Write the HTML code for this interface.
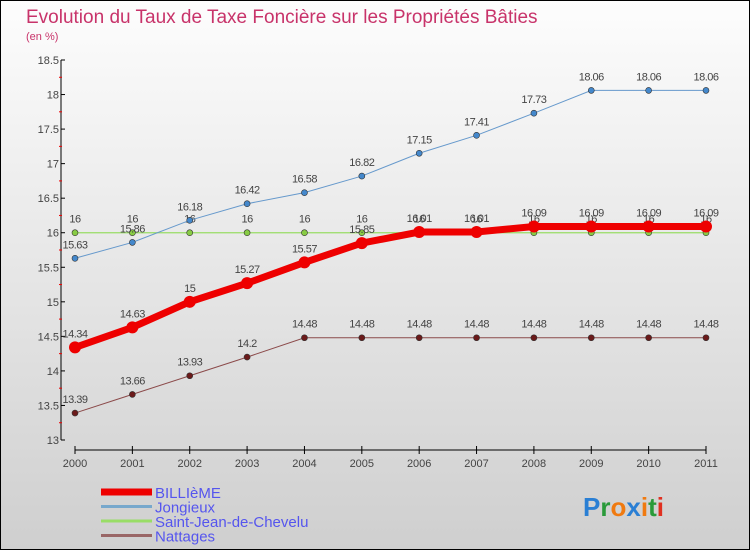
<!DOCTYPE html>
<html><head><meta charset="utf-8"><style>
html,body{margin:0;padding:0}
body{width:750px;height:550px;overflow:hidden;font-family:"Liberation Sans",sans-serif}
#wrap{position:relative;width:748px;height:548px;border:1px solid #000;background:linear-gradient(#fdfdfd,#cfcfcf)}
</style></head><body>
<div id="wrap">
<svg id="chart" width="748" height="548"></svg>
</div>
<script>
const years=[2000,2001,2002,2003,2004,2005,2006,2007,2008,2009,2010,2011];
const yTicks=[13,13.5,14,14.5,15,15.5,16,16.5,17,17.5,18,18.5];
const billieme=[14.34,14.63,15,15.27,15.57,15.85,16.01,16.01,16.09,16.09,16.09,16.09];
const jongieux=[15.63,15.86,16.18,16.42,16.58,16.82,17.15,17.41,17.73,18.06,18.06,18.06];
const saintJean=[16,16,16,16,16,16,16,16,16,16,16,16];
const nattages=[13.39,13.66,13.93,14.2,14.48,14.48,14.48,14.48,14.48,14.48,14.48,14.48];
const seriesNames=["BILLIèME","Jongieux","Saint-Jean-de-Chevelu","Nattages"];
const NS="http://www.w3.org/2000/svg";
const svg=document.getElementById('chart');
function X(i){return 74+i*(631/11);}
function Y(v){return 439-(v-13)*(380/5.5);}
function mk(t,a,p){const e=document.createElementNS(NS,t);for(const k in a)e.setAttribute(k,a[k]);(p||svg).appendChild(e);return e;}
function txt(s,a){const e=mk('text',a);e.textContent=s;return e;}
// title
let t=txt('Evolution du Taux de Taxe Foncière sur les Propriétés Bâties',{x:25,y:22,'font-size':19,fill:'#c8336a'});

t=txt('(en %)',{x:25,y:39,'font-size':11,fill:'#c8336a'});

// y axis
let l=mk('line',{x1:60,y1:Y(18.5),x2:60,y2:Y(13),stroke:'#000'});

yTicks.forEach(v=>{
 const y=Y(v);
 const tk=mk('line',{x1:60,y1:y,x2:64,y2:y,stroke:'#000'});
 
 const lb=txt(String(v),{x:58,y:y+4,'font-size':11,fill:'#444','text-anchor':'end'});
 
 if(v<18.5){const m=mk('line',{x1:58,y1:Y(v+0.25),x2:61,y2:Y(v+0.25),stroke:'#e00'});
 }
});
// x axis
l=mk('line',{x1:X(0),y1:449,x2:X(11),y2:449,stroke:'#000'});

years.forEach((yr,i)=>{
 const tk=mk('line',{x1:X(i),y1:445,x2:X(i),y2:453,stroke:'#000'});
 
 const lb=txt(String(yr),{x:X(i),y:466,'font-size':11,fill:'#444','text-anchor':'middle'});
 
});
function series(vals,color,w,r,fill,name){
 const g=mk('g',{});
 
 
 const p=mk('polyline',{points:vals.map((v,i)=>X(i)+','+Y(v)).join(' '),fill:'none',stroke:color,'stroke-width':w},g);
 
 vals.forEach((v,i)=>{
  const c=mk('circle',{cx:X(i),cy:Y(v),r:r,fill:fill,stroke:'#333','stroke-width':r>4?0:0.6},g);
  
  const lb=txt(String(v),{x:X(i),y:Y(v)-10,'font-size':11,fill:'#444','text-anchor':'middle','letter-spacing':'-0.5'});
  
 });
}
series(nattages,'#8b4a4a',1,3,'#6b1a1a','nattages-series');
series(saintJean,'#99dd66',1.2,3,'#88cc44','saint-jean-series');
series(jongieux,'#6699cc',1,3,'#4488cc','jongieux-series');
series(billieme,'#ee0000',7,6,'#ee0000','billieme-series');
// legend
const lc=['#ee0000','#77a8cc','#99dd66','#996666'];const lw=[7,3,3,3];
seriesNames.forEach((n,i)=>{
 const y=491+i*14.5;
 const ln=mk('line',{x1:100,y1:y,x2:151,y2:y,stroke:lc[i],'stroke-width':lw[i]});
 
 const lb=txt(n,{x:154,y:y+6,'font-size':15,fill:'#5555ee'});
 
});
// logo
const logo=txt('',{x:582,y:515,'font-size':26,'font-weight':'bold'});

[['P','#2a7fd4'],['r','#2a9a3a'],['o','#f07a10'],['x','#2a7fd4'],['i','#f07a10'],['t','#2a9a3a'],['i','#e03020']].forEach(([c,f])=>{const s=mk('tspan',{fill:f},logo);s.textContent=c;});
</script>
</body></html>
